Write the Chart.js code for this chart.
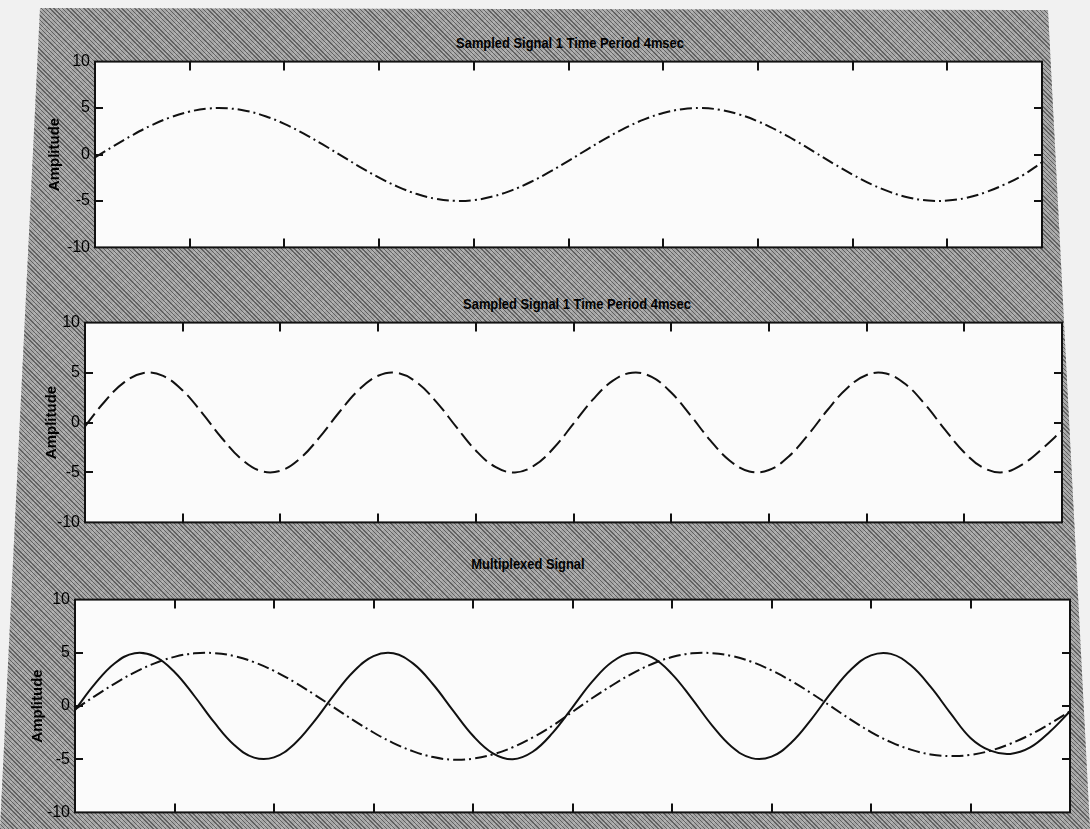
<!DOCTYPE html>
<html>
<head>
<meta charset="utf-8">
<script src="https://cdn.jsdelivr.net/npm/chart.js@4.4.1/dist/chart.umd.min.js"></script>
<style>
  html, body { margin:0; padding:0; }
  body { width:1090px; height:829px; background:#f1f1f1; position:relative; overflow:hidden; }
  #paper {
    position:absolute; left:0; top:0; width:1090px; height:829px;
    clip-path: polygon(40px 8px, 1048px 10px, 1090px 829px, 0px 829px);
    background:
      repeating-linear-gradient(45deg, rgba(40,40,40,0.55) 0px, rgba(40,40,40,0.55) 1px, rgba(0,0,0,0) 1px, rgba(0,0,0,0) 3px),
      repeating-linear-gradient(135deg, rgba(255,255,255,0.12) 0px, rgba(255,255,255,0.12) 2px, rgba(0,0,0,0) 2px, rgba(0,0,0,0) 7px),
      #a6a6a6;
  }
  .panel { position:absolute; }
  .ttl { position:absolute; transform:translate(-50%,-50%) scaleX(0.86); font-family:'Liberation Sans Narrow','Liberation Sans',Arial,sans-serif; font-weight:bold; font-size:15px; color:#000; white-space:nowrap; }
</style>
</head>
<body>
<div id="paper"></div>
<div class="ttl" style="left:570px; top:42px;">Sampled Signal 1 Time Period 4msec</div>
<div class="ttl" style="left:577px; top:303px;">Sampled Signal 1 Time Period 4msec</div>
<div class="ttl" style="left:528px; top:563px;">Multiplexed Signal</div>
<div class="panel" style="left:43px; top:47px; width:1002px; height:215px;"><canvas id="c1"></canvas></div>
<div class="panel" style="left:33px; top:308px; width:1032px; height:229px;"><canvas id="c2"></canvas></div>
<div class="panel" style="left:23px; top:585px; width:1050px; height:242px;"><canvas id="c3"></canvas></div>
<script>
const xValues = [0,0.2,0.4,0.6,0.8,1,1.2,1.4,1.6,1.8,2,2.2,2.4,2.6,2.8,3,3.2,3.4,3.6,3.8,4,4.2,4.4,4.6,4.8,5,5.2,5.4,5.6,5.8,6,6.2,6.4,6.6,6.8,7,7.2,7.4,7.6,7.8,8,8.2,8.4,8.6,8.8,9,9.2,9.4,9.6,9.8,10];

const signal1 = [-0.31,0.93,2.11,3.16,4.01,4.62,4.95,4.97,4.69,4.12,3.30,2.27,1.11,-0.12,-1.35,-2.49,-3.48,-4.26,-4.77,-4.99,-4.91,-4.52,-3.86,-2.96,-1.88,-0.68,0.56,1.76,2.86,3.78,4.47,4.88,5.00,4.81,4.32,3.57,2.60,1.47,0.25,-0.99,-2.16,-3.21,-4.05,-4.65,-4.96,-4.96,-4.67,-4.08,-3.25,-2.21,-0.85];

const signal2 = [-0.38,2.08,4.02,4.96,4.66,3.20,0.94,-1.55,-3.66,-4.85,-4.83,-3.61,-1.49,1.00,3.25,4.68,4.95,3.98,2.02,-0.44,-2.80,-4.45,-5.00,-4.30,-2.53,-0.12,2.31,4.16,4.98,4.56,3.00,0.69,-1.79,-3.82,-4.90,-4.76,-3.43,-1.25,1.25,3.43,4.76,4.90,3.82,1.79,-0.69,-3.00,-4.56,-4.98,-4.16,-2.60,-0.80];

const muxSignal1 = [-0.31,0.93,2.11,3.16,4.01,4.62,4.95,4.97,4.69,4.12,3.30,2.27,1.11,-0.12,-1.35,-2.49,-3.48,-4.26,-4.80,-5.05,-4.95,-4.55,-3.88,-2.96,-1.85,-0.55,0.75,1.95,3.05,3.95,4.60,4.95,4.97,4.70,4.15,3.35,2.35,1.20,-0.05,-1.30,-2.45,-3.40,-4.10,-4.55,-4.70,-4.60,-4.20,-3.55,-2.70,-1.65,-0.50];

const muxSignal2 = [-0.38,2.08,4.02,4.96,4.66,3.20,0.94,-1.55,-3.66,-4.85,-4.83,-3.61,-1.49,1.00,3.25,4.68,4.95,3.98,2.02,-0.44,-2.80,-4.45,-5.00,-4.30,-2.53,-0.12,2.31,4.16,4.98,4.56,3.00,0.69,-1.79,-3.82,-4.90,-4.76,-3.43,-1.25,1.25,3.43,4.76,4.90,3.82,1.79,-0.69,-3.00,-4.20,-4.50,-3.90,-2.40,-0.50];

const yTickValues = [-10,-5,0,5,10];
const yInnerTicks = [-5,0,5];
const xTickMarks = [1,2,3,4,5,6,7,8,9];
const yAxisTitle = 'Amplitude';

const FONT = "'Liberation Sans Narrow','Liberation Sans',Arial,sans-serif";

const framePlugin = {
  id: 'frame',
  beforeDraw(chart) {
    const {ctx, chartArea: a} = chart;
    ctx.save();
    ctx.fillStyle = '#fbfbfb';
    ctx.fillRect(a.left, a.top, a.right - a.left, a.bottom - a.top);
    ctx.restore();
  },
  afterDraw(chart) {
    const {ctx, chartArea: a} = chart;
    const xs = chart.scales.x, ys = chart.scales.y;
    ctx.save();
    ctx.strokeStyle = '#111';
    ctx.lineWidth = 2;
    ctx.strokeRect(a.left, a.top, a.right - a.left, a.bottom - a.top);
    ctx.beginPath();
    xTickMarks.forEach(v => {
      const px = Math.round(xs.getPixelForValue(v));
      ctx.moveTo(px, a.top); ctx.lineTo(px, a.top + 9);
      ctx.moveTo(px, a.bottom); ctx.lineTo(px, a.bottom - 9);
    });
    yInnerTicks.forEach(v => {
      const py = Math.round(ys.getPixelForValue(v));
      ctx.moveTo(a.left, py); ctx.lineTo(a.left + 8, py);
      ctx.moveTo(a.right, py); ctx.lineTo(a.right - 8, py);
    });
    ctx.stroke();
    ctx.restore();
  }
};

function pts(ys) { return xValues.map((x, i) => ({x: x, y: ys[i]})); }

function makeChart(id, datasets, titlePad) {
  new Chart(document.getElementById(id), {
    type: 'line',
    data: { datasets: datasets },
    plugins: [framePlugin],
    options: {
      responsive: true,
      maintainAspectRatio: false,
      animation: false,
      layout: { padding: { top: 10, bottom: 10, left: 0, right: 3 } },
      plugins: { legend: { display: false }, title: { display: false }, tooltip: { enabled: false } },
      elements: { point: { radius: 0 }, line: { tension: 0.4 } },
      scales: {
        x: { type: 'linear', min: 0, max: 10, display: false },
        y: {
          min: -10, max: 10,
          afterBuildTicks: s => { s.ticks = yTickValues.map(v => ({value: v})); },
          afterFit: s => { s.width = 52; },
          grid: { display: false, drawTicks: false },
          border: { display: false },
          ticks: { color: '#000', padding: 5, font: { family: FONT, size: 16 } },
          title: { display: true, text: yAxisTitle, color: '#000', padding: { top: titlePad, bottom: 0 }, font: { family: FONT, size: 15, weight: 'bold' } }
        }
      }
    }
  });
}

makeChart('c1', [
  { data: pts(signal1), borderColor: '#111', borderWidth: 2, borderDash: [12, 4, 2, 4] }
], 3);

makeChart('c2', [
  { data: pts(signal2), borderColor: '#111', borderWidth: 2, borderDash: [16, 6] }
], 10);

makeChart('c3', [
  { data: pts(muxSignal2), borderColor: '#111', borderWidth: 2 },
  { data: pts(muxSignal1), borderColor: '#111', borderWidth: 2, borderDash: [12, 4, 2, 4] }
], 6);
</script>
</body>
</html>
